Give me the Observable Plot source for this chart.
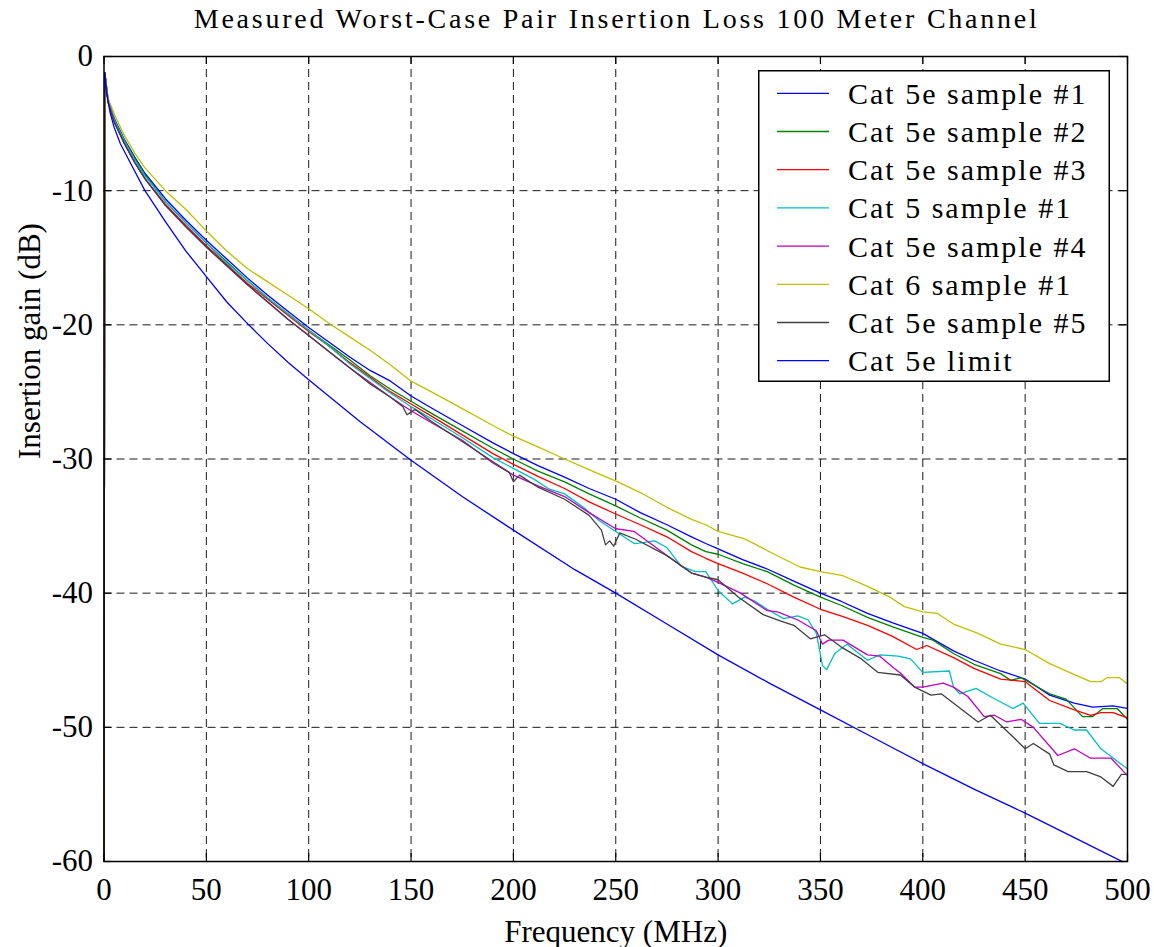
<!DOCTYPE html>
<html><head><meta charset="utf-8">
<script src="https://cdn.jsdelivr.net/npm/d3@7"></script>
<script src="https://cdn.jsdelivr.net/npm/@observablehq/plot@0.6"></script>
<style>
body{margin:0;background:#fff;}
#wrap{position:relative;width:1154px;height:947px;font-family:"Liberation Serif","Times New Roman",serif;color:#000;}
#wrap svg{display:block;}
#legend{position:absolute;left:758px;top:70px;}
</style></head><body><div id="wrap"></div>
<script>
const titleText = "Measured Worst-Case Pair Insertion Loss 100 Meter Channel";
const xLabel = "Frequency (MHz)";
const yLabel = "Insertion gain (dB)";
const xTicks = [0, 50, 100, 150, 200, 250, 300, 350, 400, 450, 500];
const yTicks = [0, -10, -20, -30, -40, -50, -60];
const seriesNames = ["Cat 5e sample #1", "Cat 5e sample #2", "Cat 5e sample #3", "Cat 5 sample #1",
  "Cat 5e sample #4", "Cat 6 sample #1", "Cat 5e sample #5", "Cat 5e limit"];
const seriesColors = ["#0000ff", "#008000", "#ff0000", "#00bfbf", "#bf00bf", "#bfbf00", "#404040", "#0000ff"];

const freq5e1 = [0,0.4,2,5,10,15,20,30,40,50,60,70,80,90,100,110,120,130,140,150,160,175,190,200,212,225,237,250,262,275,287,294,300,312,324,337,350,360,373,385,400,415,425,438,450,462,474,483,493,500];
const loss5e1 = [-60,-1.2,-3.2,-4.6,-6.2,-7.5,-8.7,-10.6,-12.2,-13.7,-15.1,-16.5,-17.8,-19.0,-20.2,-21.3,-22.4,-23.4,-24.2,-25.3,-26.2,-27.5,-28.8,-29.6,-30.5,-31.35,-32.2,-33.0,-34.0,-34.9,-35.8,-36.3,-36.7,-37.5,-38.2,-39.1,-40.0,-40.6,-41.5,-42.2,-43.0,-44.3,-45.0,-45.8,-46.4,-47.6,-48.2,-48.5,-48.4,-48.6];

const freq5e2 = [0,0.4,2,5,10,15,20,30,40,50,60,70,80,90,100,110,120,130,140,150,160,175,190,200,212,225,237,250,262,275,287,294,300,312,324,337,350,360,373,385,400,405,415,425,438,443,448,462,470,478,483,488,495,500];
const loss5e2 = [-60,-1.2,-3.3,-4.7,-6.3,-7.6,-8.8,-10.8,-12.4,-13.9,-15.3,-16.7,-18.0,-19.2,-20.4,-21.5,-22.6,-23.8,-24.8,-25.7,-26.6,-27.9,-29.2,-30.0,-30.9,-31.7,-32.6,-33.5,-34.4,-35.3,-36.4,-36.9,-37.1,-37.8,-38.4,-39.4,-40.3,-40.9,-41.8,-42.5,-43.3,-43.5,-44.5,-45.3,-46.0,-46.5,-46.3,-47.5,-47.9,-49.2,-49.2,-48.6,-48.6,-49.4];

const freq5e3 = [0,0.4,2,5,10,15,20,30,40,50,60,70,80,90,100,110,120,130,140,150,160,175,190,200,212,225,237,250,262,275,287,294,300,312,324,337,350,360,373,385,397,402,415,425,438,450,462,474,482,487,493,500];
const loss5e3 = [-60,-1.2,-3.4,-4.8,-6.5,-7.9,-9.1,-11.0,-12.6,-14.1,-15.5,-16.9,-18.1,-19.3,-20.5,-21.6,-22.8,-23.9,-25.0,-25.9,-26.8,-28.2,-29.6,-30.4,-31.3,-32.2,-33.2,-34.1,-34.9,-35.8,-36.9,-37.4,-37.8,-38.5,-39.3,-40.3,-41.2,-41.7,-42.4,-43.2,-44.2,-43.9,-44.8,-45.6,-46.4,-46.6,-48.0,-48.7,-49.1,-48.9,-48.9,-49.3];

const freqCat5 = [0,0.4,2,5,10,15,20,30,40,50,60,70,80,90,100,110,120,130,140,150,160,175,190,200,210,217,225,235,242,253,259,265,269,275,282,289,294,300,307,313,318,324,332,339,344,348,351,353,357,363,373,379,388,394,400,413,415,418,426,433,444,449,457,467,474,480,487,500];
const lossCat5 = [-60,-1.2,-3.3,-4.7,-6.3,-7.7,-8.9,-10.8,-12.4,-13.9,-15.4,-16.7,-18.0,-19.2,-20.4,-21.6,-22.9,-24.0,-25.1,-26.1,-27.0,-28.4,-29.9,-30.7,-31.5,-32.2,-32.6,-33.7,-34.6,-35.7,-36.3,-36.2,-36.1,-36.6,-38.0,-38.4,-38.4,-39.8,-40.8,-40.3,-40.6,-41.2,-41.9,-41.7,-42.0,-43.0,-45.4,-45.7,-44.5,-43.8,-45.0,-44.6,-44.7,-44.9,-45.9,-45.8,-47.0,-47.5,-47.1,-47.7,-48.6,-48.2,-49.7,-49.7,-50.2,-50.2,-51.6,-53.1];

const freq5e4 = [0,0.4,2,5,10,15,20,30,40,50,60,70,80,90,100,110,120,130,140,150,160,175,190,200,212,225,237,250,259,275,287,294,300,311,324,329,339,348,351,354,361,373,379,386,389,396,400,410,415,422,430,435,441,448,454,466,474,482,492,500];
const loss5e4 = [-60,-1.2,-3.4,-4.9,-6.5,-7.9,-9.1,-11.1,-12.7,-14.2,-15.6,-17.0,-18.3,-19.6,-20.8,-22.0,-23.2,-24.3,-25.4,-26.4,-27.3,-28.6,-30.3,-31.2,-32.0,-32.8,-34.0,-35.2,-35.4,-37.2,-38.5,-38.8,-39.2,-40.0,-41.3,-41.4,-42.0,-42.8,-43.8,-43.5,-43.5,-44.6,-44.7,-45.6,-45.95,-47.0,-47.0,-46.7,-47.0,-47.7,-49.2,-49.1,-49.6,-49.4,-50.0,-52.1,-51.6,-52.3,-52.3,-53.6];

const freqCat6 = [0,0.4,2,5,10,15,20,30,40,50,60,70,80,90,100,110,120,130,140,150,160,175,190,200,212,225,240,251,262,275,287,294,300,313,327,340,350,361,373,384,391,400,407,415,427,438,450,462,473,482,487,490,496,500];
const lossCat6 = [-60,-1.2,-3.1,-4.3,-5.9,-7.2,-8.3,-10.0,-11.4,-13.0,-14.5,-15.8,-16.8,-17.8,-18.8,-19.9,-20.9,-21.9,-23.0,-24.2,-25.0,-26.25,-27.5,-28.3,-29.1,-30.0,-31.0,-31.7,-32.5,-33.6,-34.5,-34.9,-35.4,-35.95,-37.06,-38.05,-38.4,-38.7,-39.5,-40.3,-41.0,-41.4,-41.5,-42.3,-43.0,-43.8,-44.2,-45.25,-46.0,-46.6,-46.6,-46.3,-46.3,-46.75];

const freq5e5 = [0,0.4,2,5,10,15,20,30,40,50,60,70,80,90,100,110,120,130,140,146,148,152,160,175,190,198,200,203,212,225,237,243,245,247,249,252,260,275,287,294,300,310,322,331,337,345,352,360,370,378,389,396,404,409,427,433,444,450,454,462,464,471,480,487,493,497,500];
const loss5e5 = [-60,-1.2,-3.4,-4.9,-6.5,-7.9,-9.1,-11.1,-12.7,-14.2,-15.6,-17.0,-18.3,-19.6,-20.8,-22.0,-23.2,-24.4,-25.4,-26.1,-26.7,-26.3,-27.2,-28.7,-30.2,-31.0,-31.7,-31.2,-32.1,-33.0,-34.2,-35.3,-36.4,-36.1,-36.5,-35.5,-36.0,-37.2,-38.5,-38.8,-39.0,-40.3,-41.6,-42.1,-42.4,-43.4,-43.1,-44.0,-44.9,-45.9,-46.1,-47.0,-47.6,-47.5,-49.6,-49.1,-50.7,-51.6,-51.2,-52.0,-52.8,-53.3,-53.3,-53.7,-54.4,-53.5,-53.5];

const freqLimit = [0.4,1,3,5,8,14,20,30,40,50,60,70.7,80,90,100,125,150,175,200,230,250,275,300,325,350,375,400,425,450,475,500];
const lossLimit = [-1.2,-2.5,-4.2,-5.3,-6.5,-8.25,-10,-12.3,-14.5,-16.4,-18.3,-20,-21.4,-22.8,-24.1,-27.2,-30.1,-32.8,-35.3,-38.25,-40.0,-42.3,-44.6,-46.7,-48.7,-50.7,-52.7,-54.6,-56.4,-58.3,-60.2];

const seriesFreq = [freq5e1, freq5e2, freq5e3, freqCat5, freq5e4, freqCat6, freq5e5, freqLimit];
const seriesLoss = [loss5e1, loss5e2, loss5e3, lossCat5, loss5e4, lossCat6, loss5e5, lossLimit];

const W = 1154, H = 909, mT = 18, mB = 86, mL = 103.5, mR = 27;
const plotH = H - mT - mB, plotW = W - mL - mR;
const fontFam = '"Liberation Serif","Times New Roman",serif';

const wrap = document.getElementById("wrap");

// Title
const tsvg = d3.select(wrap).append("svg").attr("width", W).attr("height", 38);
tsvg.append("text").attr("x", mL + plotW / 2).attr("y", 28).attr("text-anchor", "middle")
  .attr("font-family", fontFam).attr("font-size", 28).attr("fill", "black")
  .attr("textLength", 843).attr("lengthAdjust", "spacing").text(titleText);

const lineMarks = seriesNames.map((name, i) => {
  const data = seriesFreq[i].map((f, j) => ({f, v: seriesLoss[i][j]}));
  return Plot.line(data, {x: "f", y: "v", stroke: seriesColors[i], strokeWidth: 1.3, clip: true});
});

const grid = {stroke: "black", strokeOpacity: 0.9, strokeDasharray: "8,5", strokeWidth: 1};
const fmt = d => String(d);

const chart = Plot.plot({
  width: W, height: H, marginTop: mT, marginBottom: mB, marginLeft: mL, marginRight: mR,
  style: {fontFamily: fontFam, fontSize: "31px", color: "black", background: "white"},
  x: {domain: [0, 500]},
  y: {domain: [-60, 0]},
  marks: [
    Plot.ruleX(xTicks.slice(1, -1), grid),
    Plot.ruleY(yTicks.slice(1, -1), grid),
    ...lineMarks,
    Plot.frame({stroke: "black", strokeWidth: 1.5}),
    Plot.ruleX(xTicks, {stroke: "black", strokeWidth: 1.2, insetBottom: plotH - 8}),
    Plot.ruleX(xTicks, {stroke: "black", strokeWidth: 1.2, insetTop: plotH - 8}),
    Plot.ruleY(yTicks, {stroke: "black", strokeWidth: 1.2, insetRight: plotW - 8}),
    Plot.ruleY(yTicks, {stroke: "black", strokeWidth: 1.2, insetLeft: plotW - 8}),
    Plot.axisX({ticks: xTicks, tickSize: 0, tickPadding: 16, tickFormat: fmt, label: null}),
    Plot.axisY({ticks: yTicks, tickSize: 0, tickPadding: 11, tickFormat: fmt, label: null}),
    Plot.text([xLabel], {text: d => d, frameAnchor: "bottom", dy: 80, ariaLabel: "x-label", fill: "black"}),
    Plot.text([yLabel], {text: d => d, frameAnchor: "left", dx: -74, rotate: -90, ariaLabel: "y-label", fill: "black"})
  ]
});
wrap.appendChild(chart);

d3.select(chart).select('g[aria-label="x-label"] text').attr("textLength", 293).attr("lengthAdjust", "spacing");
d3.select(chart).select('g[aria-label="y-label"] text').attr("textLength", 275).attr("lengthAdjust", "spacing");

// Legend
const lg = d3.select(wrap).append("svg").attr("id", "legend").attr("width", 353).attr("height", 313);
lg.append("rect").attr("x", 0.75).attr("y", 0.75).attr("width", 350.5).attr("height", 310.5)
  .attr("fill", "white").attr("stroke", "black").attr("stroke-width", 1.5);
seriesNames.forEach((name, i) => {
  const cy = 23.3 + i * 38.2;
  lg.append("line").attr("x1", 19).attr("x2", 71).attr("y1", cy).attr("y2", cy)
    .attr("stroke", seriesColors[i]).attr("stroke-width", 1.3);
  lg.append("text").attr("x", 90).attr("y", cy + 10.5).attr("font-family", fontFam)
    .attr("font-size", 30).attr("letter-spacing", "2px").attr("fill", "black").text(name);
});
</script></body></html>
